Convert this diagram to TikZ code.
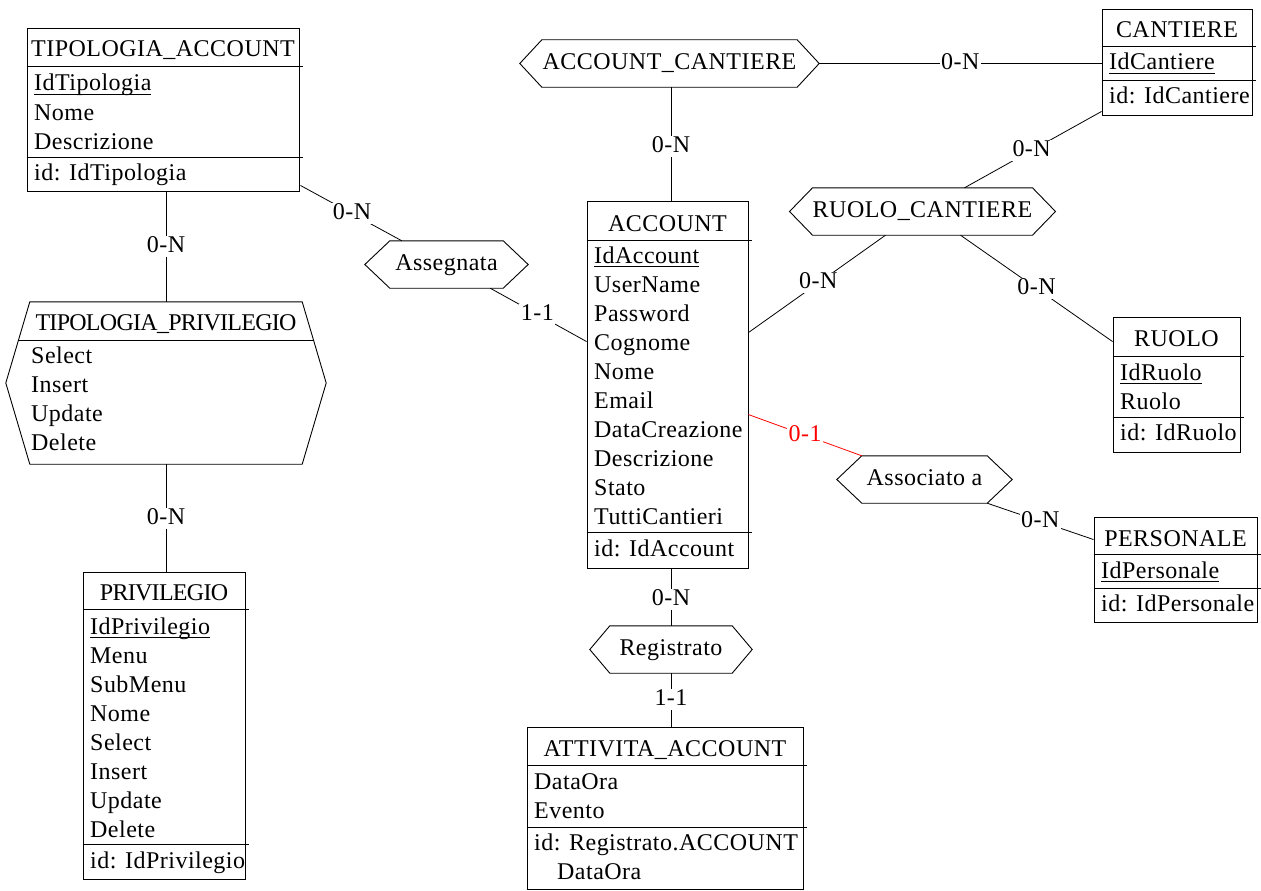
\documentclass[tikz,border=0pt]{standalone}
\usepackage{fontspec}
\setmainfont{Liberation Serif}[LetterSpace=2]
\usetikzlibrary{calc}

% primary key: underline at a fixed depth below the baseline
\newcommand\keyattr[1]{\setbox0=\hbox{#1}\rlap{\rule[-4pt]{\wd0}{0.9pt}}\box0}
% hexagonal outline of a relationship around its core node
\newcommand\drawhex[2]{\draw[hexline] (#1.north west) -- (#1.north east) -- ($(#1.east)+(#2,0)$) -- (#1.south east) -- (#1.south west) -- ($(#1.west)+(-#2,0)$) -- cycle;}
% tightly set heading
\newcommand\tight[1]{{\addfontfeatures{LetterSpace=-3}#1}}

\tikzset{
  every node/.style={font=\fontsize{24}{29}\selectfont},
  ent/.style={draw, line width=0.9pt, rectangle, inner sep=0pt},
  hexcore/.style={inner sep=0pt, minimum height=47, text height=15, text depth=3},
  hexline/.style={line width=0.9pt},
  sepline/.style={line width=0.9pt},
  title/.style={anchor=base, inner sep=0pt},
  attr/.style={anchor=base west, inner sep=0pt},
  link/.style={line width=0.8pt},
  redlink/.style={link, draw=red},
  card/.style={fill=white, inner sep=1.5pt, text height=15, text depth=3},
  redcard/.style={card, text=red},
}

\begin{document}
\begin{tikzpicture}[x=1pt, y=-1pt]
\useasboundingbox[fill=white] (0,0) rectangle (1261,891);

% ---------- TIPOLOGIA_ACCOUNT ----------
\node[ent, minimum width=272, minimum height=163] (ta) at (163,109.5) {};
\node[title] (ta-t) at (163,57) {TIPOLOGIA\_ACCOUNT};
\draw[sepline] ($(ta.north west)+(0,39)$) -- ++(276,0);
\foreach [count=\i] \t in {\keyattr{IdTipologia},Nome,Descrizione}
  \node[attr] (ta-a\i) at (34,{91+29*(\i-1)}) {\t};
\draw[sepline] ($(ta.north west)+(0,130)$) -- ++(276,0);
\node[attr] (ta-id) at (34,180) {id: IdTipologia};

% ---------- TIPOLOGIA_PRIVILEGIO (relationship with attributes) ----------
\node[inner sep=0pt, minimum width=272, minimum height=162] (tp) at (166,383) {};
\drawhex{tp}{24}
\node[title] (tp-t) at (166,330) {\tight{TIPOLOGIA\_PRIVILEGIO}};
\draw[sepline] ($(tp.north west)+(-11.6,39)$) -- ($(tp.north east)+(11.6,39)$);
\foreach [count=\i] \t in {Select,Insert,Update,Delete}
  \node[attr] (tp-a\i) at (31,{363+29*(\i-1)}) {\t};

% ---------- PRIVILEGIO ----------
\node[ent, minimum width=162, minimum height=307] (priv) at (164,725.5) {};
\node[title] (priv-t) at (164,600) {\tight{PRIVILEGIO}};
\draw[sepline] ($(priv.north west)+(0,38)$) -- ++(166,0);
\foreach [count=\i] \t in {\keyattr{IdPrivilegio},Menu,SubMenu,Nome,Select,Insert,Update,Delete}
  \node[attr] (priv-a\i) at (90,{634+29*(\i-1)}) {\t};
\draw[sepline] ($(priv.north west)+(0,273)$) -- ++(166,0);
\node[attr] (priv-id) at (90,868) {id: IdPrivilegio};

% ---------- ACCOUNT ----------
\node[ent, minimum width=161, minimum height=367] (acc) at (667.5,384.5) {};
\node[title] (acc-t) at (667.5,231) {ACCOUNT};
\draw[sepline] ($(acc.north west)+(0,40)$) -- ++(165,0);
\foreach [count=\i] \t in {\keyattr{IdAccount},UserName,Password,Cognome,Nome,Email,DataCreazione,Descrizione,Stato,TuttiCantieri}
  \node[attr] (acc-a\i) at (594,{263+29*(\i-1)}) {\t};
\draw[sepline] ($(acc.north west)+(0,332)$) -- ++(165,0);
\node[attr] (acc-id) at (594,556) {id: IdAccount};

% ---------- CANTIERE ----------
\node[ent, minimum width=150, minimum height=106] (cant) at (1177,62) {};
\node[title] (cant-t) at (1177,38) {CANTIERE};
\draw[sepline] ($(cant.north west)+(0,38)$) -- ++(154,0);
\node[attr] (cant-a1) at (1109,70) {\keyattr{IdCantiere}};
\draw[sepline] ($(cant.north west)+(0,72)$) -- ++(154,0);
\node[attr] (cant-id) at (1109,103) {id: IdCantiere};

% ---------- RUOLO ----------
\node[ent, minimum width=127, minimum height=135] (ruolo) at (1176.5,384.5) {};
\node[title] (ruolo-t) at (1176.5,346) {RUOLO};
\draw[sepline] ($(ruolo.north west)+(0,40)$) -- ++(131,0);
\foreach [count=\i] \t in {\keyattr{IdRuolo},Ruolo}
  \node[attr] (ruolo-a\i) at (1120,{380+29*(\i-1)}) {\t};
\draw[sepline] ($(ruolo.north west)+(0,101)$) -- ++(131,0);
\node[attr] (ruolo-id) at (1120,440) {id: IdRuolo};

% ---------- PERSONALE ----------
\node[ent, minimum width=163, minimum height=105] (pers) at (1175.5,569.5) {};
\node[title] (pers-t) at (1175.5,546) {PERSONALE};
\draw[sepline] ($(pers.north west)+(0,38)$) -- ++(167,0);
\node[attr] (pers-a1) at (1101,578) {\keyattr{IdPersonale}};
\draw[sepline] ($(pers.north west)+(0,72)$) -- ++(167,0);
\node[attr] (pers-id) at (1101,611) {id: IdPersonale};

% ---------- ATTIVITA_ACCOUNT ----------
\node[ent, minimum width=276, minimum height=162] (att) at (665,808) {};
\node[title] (att-t) at (665,756) {ATTIVITA\_ACCOUNT};
\draw[sepline] ($(att.north west)+(0,39)$) -- ++(280,0);
\foreach [count=\i] \t in {DataOra,Evento}
  \node[attr] (att-a\i) at (534,{789+29*(\i-1)}) {\t};
\draw[sepline] ($(att.north west)+(0,101)$) -- ++(280,0);
\node[attr] (att-id1) at (534,850) {id: Registrato.ACCOUNT};
\node[attr] (att-id2) at (557,879) {DataOra};

% ---------- relationships ----------
\node[hexcore, minimum width=255] (acccant) at (669.5,63.5) {ACCOUNT\_CANTIERE};
\drawhex{acccant}{22}
\node[hexcore, minimum width=113] (asg) at (446.5,264.5) {Assegnata};
\drawhex{asg}{25}
\node[hexcore, minimum width=215] (rc) at (922.5,211.5) {RUOLO\_CANTIERE};
\drawhex{rc}{23}
\node[hexcore, minimum width=125] (assoc) at (924.5,479.5) {Associato a};
\drawhex{assoc}{25}
\node[hexcore, minimum width=122] (reg) at (671,649.5) {Registrato};
\drawhex{reg}{20}

% ---------- connectors ----------
\draw[link] ($(ta.south)+(3,0)$) -- node[card, pos=0.5] (l1) {0-N} (tp.north);
\draw[link] (tp.south) -- node[card, pos=0.51] (l2) {0-N} ($(priv.north)+(2,0)$);
\draw[link] ($(ta.south east)+(1,-6)$) -- node[card, pos=0.51] (l3) {0-N} ($(asg.north west)+(12,0)$);
\draw[link] ($(asg.south east)+(-13,0)$) -- node[card, pos=0.49] (l4) {1-1} ($(acc.north west)+(0,141)$);
\draw[link] ($(acccant.south)+(1.5,0)$) -- node[card, pos=0.52] (l5) {0-N} ($(acc.north)+(3.5,0)$);
\draw[link] ($(acccant.east)+(22,0)$) -- node[card, pos=0.5] (l6) {0-N} (cant.west |- acccant.east);
\draw[link] ($(cant.south west)+(0,-4)$) -- node[card, pos=0.51] (l7) {0-N} ($(rc.north east)+(-68,0)$);
\draw[link] ($(rc.south west)+(73,0)$) -- node[card, pos=0.49] (l8) {0-N} ($(acc.north east)+(0,132)$);
\draw[link] ($(rc.south east)+(-72,0)$) -- node[card, pos=0.5] (l9) {0-N} ($(ruolo.north west)+(0,25)$);
\draw[redlink] ($(acc.north east)+(0,214)$) -- node[redcard, pos=0.5] (l10) {0-1} (assoc.north west);
\draw[link] (assoc.south east) -- node[card, pos=0.5] (l11) {0-N} ($(pers.north west)+(0,23)$);
\draw[link] ($(acc.south)+(3.5,0)$) -- node[card, pos=0.55] (l12) {0-N} (reg.north);
\draw[link] (reg.south) -- node[card, pos=0.5] (l13) {1-1} ($(att.north)+(6,0)$);
\end{tikzpicture}
\end{document}
